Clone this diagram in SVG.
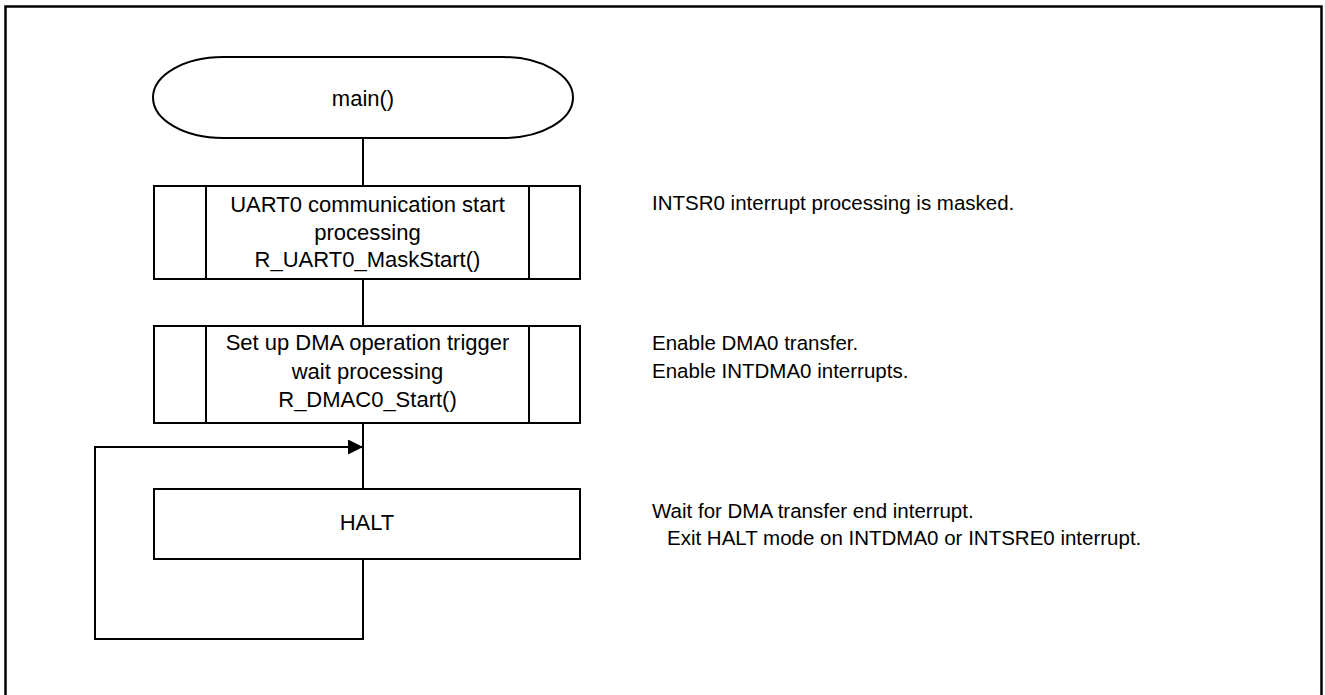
<svg xmlns="http://www.w3.org/2000/svg" width="1325" height="695" viewBox="0 0 1325 695">
<defs>
<style>
.s{fill:#fff;stroke:#000;stroke-width:2}
.l{fill:none;stroke:#000;stroke-width:2}
.t{font-family:"Liberation Sans",Arial,sans-serif;font-size:20.5px;fill:#000}
.b{font-size:22px}
.c{text-anchor:middle}
</style>
<marker id="ah" markerWidth="16" markerHeight="16" refX="15" refY="7.5" orient="auto" markerUnits="userSpaceOnUse">
<path d="M0,0 L15,7.5 L0,15 Z" fill="#000"/>
</marker>
</defs>
<rect width="1325" height="695" fill="#fff"/>
<path d="M5.5,700 V6.5 H1321.5 V700" fill="none" stroke="#000" stroke-width="2.5"/>
<g id="connectors">
<line class="l" x1="363" y1="138" x2="363" y2="186"/>
<line class="l" x1="363" y1="279" x2="363" y2="326"/>
<line class="l" x1="363" y1="423" x2="363" y2="489"/>
<path class="l" d="M363,559 V639 H95 V447 H363" marker-end="url(#ah)"/>
</g>
<g id="start">
<rect class="s" x="153" y="57" width="420" height="81" rx="70" ry="40.5"/>
<text class="t b c" x="363" y="106">main()</text>
</g>
<g id="uart">
<rect class="s" x="154" y="186" width="426" height="93"/>
<line class="l" x1="206" y1="186" x2="206" y2="279"/>
<line class="l" x1="529" y1="186" x2="529" y2="279"/>
<text class="t b c" x="367.5" y="212">UART0 communication start</text>
<text class="t b c" x="367.5" y="239.5">processing</text>
<text class="t b c" x="367.5" y="267">R_UART0_MaskStart()</text>
</g>
<g id="dmac">
<rect class="s" x="154" y="326" width="426" height="97"/>
<line class="l" x1="206" y1="326" x2="206" y2="423"/>
<line class="l" x1="529" y1="326" x2="529" y2="423"/>
<text class="t b c" x="367.5" y="350">Set up DMA operation trigger</text>
<text class="t b c" x="367.5" y="378.5">wait processing</text>
<text class="t b c" x="367.5" y="407">R_DMAC0_Start()</text>
</g>
<g id="halt">
<rect class="s" x="154" y="489" width="426" height="70"/>
<text class="t b c" x="367" y="530">HALT</text>
</g>
<g id="notes">
<text class="t" x="652" y="210">INTSR0 interrupt processing is masked.</text>
<text class="t" x="652" y="350">Enable DMA0 transfer.</text>
<text class="t" x="652" y="378">Enable INTDMA0 interrupts.</text>
<text class="t" x="652" y="518">Wait for DMA transfer end interrupt.</text>
<text class="t" x="667" y="545">Exit HALT mode on INTDMA0 or INTSRE0 interrupt.</text>
</g>
</svg>
